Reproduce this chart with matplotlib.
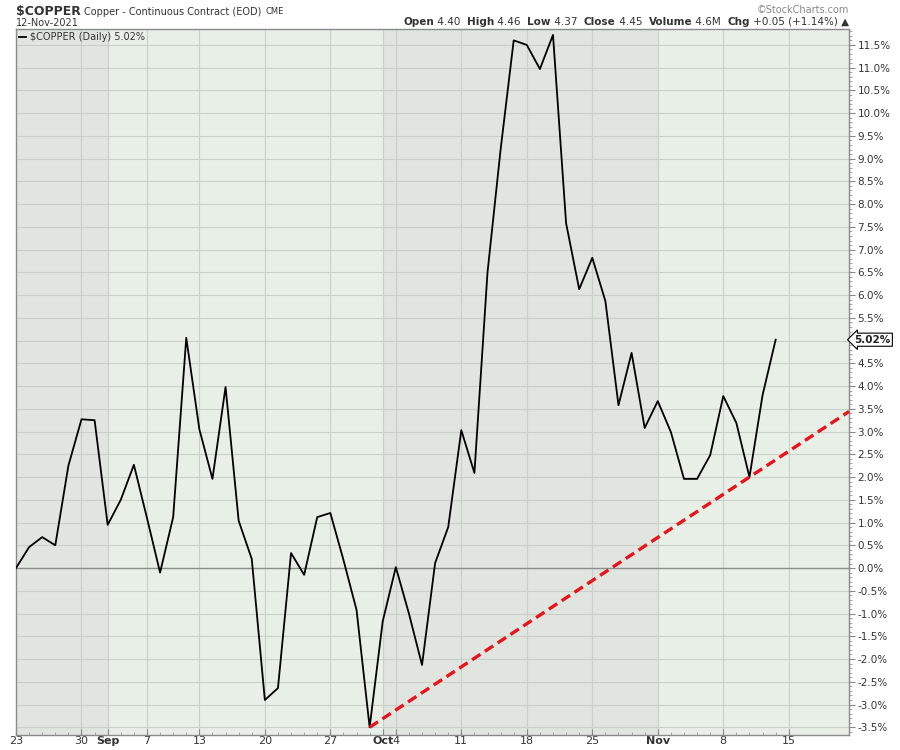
import numpy as np
import matplotlib
matplotlib.use("Agg")
import matplotlib.pyplot as plt
from matplotlib.ticker import MultipleLocator, FuncFormatter

plt.rcParams['font.family'] = ['DejaVu Sans']

# trading days, Aug 23 .. Nov 12 2021 (Sep 6 holiday)
start = "2021-08-23"
holidays = ["2021-09-06"]

# % change since Aug 23
pct = [0.0, 0.46, 0.68, 0.5, 2.25, 3.27, 3.25, 0.95, 1.5, 2.27,
       1.1, -0.1, 1.12, 5.06, 3.05, 1.96, 3.98, 1.04, 0.2, -2.9,
       -2.64, 0.33, -0.15, 1.12, 1.21, 0.18, -0.92, -3.5, -1.17, 0.02,
       -1.0, -2.13, 0.11, 0.9, 3.03, 2.09, 6.5, 9.2, 11.6, 11.5,
       10.97, 11.72, 7.58, 6.13, 6.82, 5.87, 3.58, 4.73, 3.08, 3.67,
       2.99, 1.96, 1.96, 2.48, 3.78, 3.19, 2.0, 3.8, 5.02]

tick_dates = ["2021-08-23", "2021-08-30", "2021-09-01", "2021-09-07", "2021-09-13",
              "2021-09-20", "2021-09-27", "2021-10-01", "2021-10-04", "2021-10-11",
              "2021-10-18", "2021-10-25", "2021-11-01", "2021-11-08", "2021-11-15"]
tick_labels = ["23", "30", "Sep", "7", "13", "20", "27", "Oct", "4", "11",
               "18", "25", "Nov", "8", "15"]
month_starts = ["2021-09-01", "2021-10-01", "2021-11-01"]

# trendline anchors (lows)
trend_from = "2021-09-30"
trend_to = "2021-11-10"


def idx(d):
    return np.busday_count(start, d, holidays=holidays)


x = np.arange(len(pct))
xmax = 63.6
last = pct[-1]

fig = plt.figure(figsize=(9, 7.5), dpi=100)
ax = fig.add_axes([16 / 900, 15 / 750, 833 / 900, 706 / 750])

light = "#e8efe6"
dark = "#e0e6df"
ax.set_facecolor(light)
bands = [0] + [idx(m) for m in month_starts] + [xmax]
for k in range(len(bands) - 1):
    if k % 2 == 0:
        ax.axvspan(bands[k], bands[k + 1], color=dark, zorder=0, lw=0)

gcol = "#c8d0c7"
for y in np.arange(-3.5, 12, 0.5):
    ax.axhline(y, color=gcol, lw=0.8, zorder=1)
for d in tick_dates[1:]:
    ax.axvline(idx(d), color=gcol, lw=0.8, zorder=1)
ax.axhline(0, color="#8a8f8a", lw=1.0, zorder=1.5)

ax.plot(x, pct, color="black", lw=1.3, zorder=3, label="$COPPER (Daily) %.2f%%" % last)

# trendline through the two lows, extended to the right edge
i0, i1 = idx(trend_from), idx(trend_to)
slope = (pct[i1] - pct[i0]) / (i1 - i0)
tx = np.array([i0, xmax])
ax.plot(tx, pct[i0] + slope * (tx - i0), color="#e8141c", lw=2.4,
        dashes=(3, 1.6), zorder=4, clip_on=False)

ax.set_xlim(0, xmax)
ax.set_ylim(-3.67, 11.85)


def yfmt(v, p):
    if abs(v - last) < 0.2:
        return ""
    return "%.1f%%" % v


ax.yaxis.tick_right()
ax.yaxis.set_major_locator(MultipleLocator(0.5))
ax.yaxis.set_minor_locator(MultipleLocator(0.1))
ax.yaxis.set_major_formatter(FuncFormatter(yfmt))
ax.set_xticks([idx(d) for d in tick_dates])
ax.set_xticklabels(tick_labels)
for lab in ax.get_xticklabels():
    if lab.get_text() in ("Sep", "Oct", "Nov"):
        lab.set_fontweight("bold")
        lab.set_color("#333333")
ax.set_xticks(x, minor=True)
ax.tick_params(axis="y", which="major", length=4, labelsize=7.5, colors="#888888",
               labelcolor="#333333", pad=2)
ax.tick_params(axis="y", which="minor", length=2, colors="#999999")
ax.tick_params(axis="x", which="major", direction="in", length=4, labelsize=8,
               colors="#888888", labelcolor="#333333", pad=1)
ax.tick_params(axis="x", which="minor", direction="in", length=2, colors="#999999")
for s in ax.spines.values():
    s.set_color("#8a8a8a")
    s.set_linewidth(1.0)

leg = ax.legend(loc="upper left", frameon=False, fontsize=7, handlelength=0.7,
                handletextpad=0.4, borderaxespad=0.1, borderpad=0.2)
for t in leg.get_texts():
    t.set_color("#333333")

ax.annotate("%.2f%%" % last, xy=(1.0, last), xycoords=("axes fraction", "data"),
            xytext=(4, 0), textcoords="offset points", va="center", ha="left",
            fontsize=7.5, fontweight="bold", color="#222222",
            bbox=dict(boxstyle="larrow,pad=0.15", fc="white", ec="black", lw=0.8))

# header
fig.canvas.draw()
r = fig.canvas.get_renderer()
t1 = fig.text(16 / 900, 1 - 12 / 750, "$COPPER", fontsize=9, fontweight="bold",
              color="#333333", va="center")
x2 = 16 + t1.get_window_extent(r).width + 3
t2 = fig.text(x2 / 900, 1 - 12 / 750, "Copper - Continuous Contract (EOD)", fontsize=7,
              color="#333333", va="center")
x3 = x2 + t2.get_window_extent(r).width + 4
fig.text(x3 / 900, 1 - 12 / 750, "CME", fontsize=6, color="#333333", va="center")
fig.text(16 / 900, 1 - 23 / 750, "12-Nov-2021", fontsize=7, color="#333333", va="center")
fig.text(849 / 900, 1 - 10 / 750, "\u00a9StockCharts.com", fontsize=7, color="#888888",
         ha="right", va="center")

parts = [("Open", True), (" 4.40  ", False), ("High", True), (" 4.46  ", False),
         ("Low", True), (" 4.37  ", False), ("Close", True), (" 4.45  ", False),
         ("Volume", True), (" 4.6M  ", False), ("Chg", True), (" +0.05 (+1.14%) \u25b2", False)]
xs = 849
for txt, bold in reversed(parts):
    t = fig.text(xs / 900, 1 - 22 / 750, txt, fontsize=7.5,
                 fontweight="bold" if bold else "normal", color="#333333",
                 ha="right", va="center")
    xs -= t.get_window_extent(r).width

fig.savefig("out.png", dpi=100, facecolor="white")
